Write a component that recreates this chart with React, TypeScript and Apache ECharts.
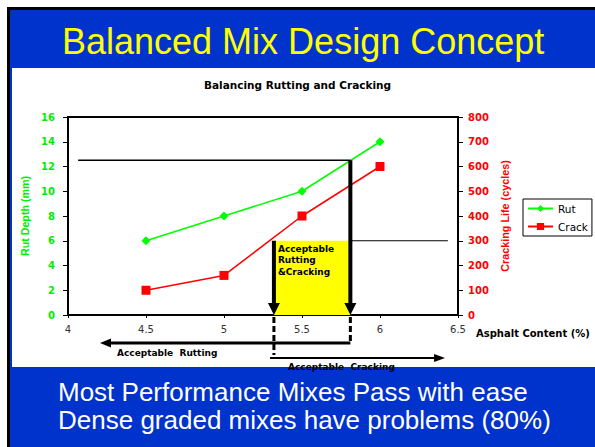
import { useEffect, useRef } from 'react';
import * as echarts from 'echarts';

// ---- data ----
const asphaltContent = [4.5, 5, 5.5, 6];
const rutDepth = [6, 8, 10, 14];
const crackingLife = [100, 160, 400, 600];
const seriesNames = ['Rut', 'Crack'];

// ---- annotation values (data units) ----
const rutLimit = 12.5;
const crackLimit = 300;
const acceptLow = 5.32;
const acceptHigh = 5.81;
const rutLineStart = 4.065;
const crackLineEnd = 6.435;
const rutArrowEnd = 4.205;
const crackArrowStart = 5.295;
const crackArrowEnd = 6.417;

const slideTitle = 'Balanced Mix Design Concept';
const chartTitle = 'Balancing Rutting and Cracking';
const bottomLines = ['Most Performance Mixes Pass with ease', 'Dense graded mixes have problems (80%)'];
const boxText = 'Acceptable\nRutting\n&Cracking';
const rutRangeText = 'Acceptable  Rutting';
const crackRangeText = 'Acceptable  Cracking';

const GREEN = '#00ff00';
const GREEN_TXT = '#00ee00';
const RED = '#ff0000';
const BLUE = '#0033cc';
const DV = 'DejaVu Sans';
const AR = 'Liberation Sans, Arial, sans-serif';

export default function App() {
  const ref = useRef<HTMLDivElement>(null);
  useEffect(() => {
    if (!ref.current) return;
    const chart = echarts.init(ref.current, null, { renderer: 'svg' });
    chart.setOption({
      animation: false,
      backgroundColor: '#ffffff',
      title: {
        text: chartTitle,
        left: 'center',
        top: 79,
        padding: 0,
        textStyle: { fontFamily: DV, fontWeight: 'bold', fontSize: 10.5, color: '#000' },
      },
      legend: {
        left: 523,
        top: 199,
        orient: 'vertical',
        itemWidth: 25,
        itemHeight: 9,
        itemGap: 7,
        padding: [4, 4, 4, 4],
        borderColor: '#000',
        borderWidth: 1,
        textStyle: { fontFamily: DV, fontSize: 10.5, color: '#000' },
        data: seriesNames,
      },
      grid: {
        left: 68,
        top: 117,
        width: 390,
        height: 198,
        show: true,
        borderColor: '#000',
        borderWidth: 2,
        backgroundColor: 'transparent',
      },
      xAxis: {
        type: 'value',
        min: 4,
        max: 6.5,
        interval: 0.5,
        splitLine: { show: false },
        axisLine: { lineStyle: { color: '#000', width: 2 } },
        axisTick: { length: 3, lineStyle: { color: '#000' } },
        axisLabel: { fontFamily: DV, fontSize: 10, color: '#333', margin: 9 },
        name: 'Asphalt Content (%)',
        nameLocation: 'end',
        nameGap: 18,
        nameTextStyle: {
          fontFamily: DV,
          fontWeight: 'bold',
          fontSize: 10,
          color: '#000',
          verticalAlign: 'top',
          padding: [13, 0, 0, 0],
        },
      },
      yAxis: [
        {
          type: 'value',
          position: 'left',
          min: 0,
          max: 16,
          interval: 2,
          splitLine: { show: false },
          axisLine: { show: true, lineStyle: { color: '#000', width: 2 } },
          axisTick: { show: true, length: 5, lineStyle: { color: '#000' } },
          axisLabel: { fontFamily: DV, fontWeight: 'bold', fontSize: 10, color: GREEN_TXT, margin: 13 },
          name: 'Rut Depth (mm)',
          nameLocation: 'middle',
          nameGap: 36,
          nameTextStyle: { fontFamily: AR, fontWeight: 'bold', fontSize: 10.7, color: GREEN_TXT },
        },
        {
          type: 'value',
          position: 'right',
          min: 0,
          max: 800,
          interval: 100,
          splitLine: { show: false },
          axisLine: { show: true, lineStyle: { color: '#000', width: 2 } },
          axisTick: { show: true, length: 5, lineStyle: { color: '#000' } },
          axisLabel: { fontFamily: DV, fontWeight: 'bold', fontSize: 10, color: RED, margin: 10 },
          name: 'Cracking Life (cycles)',
          nameLocation: 'middle',
          nameGap: 39,
          nameTextStyle: { fontFamily: AR, fontWeight: 'bold', fontSize: 10.8, color: RED },
        },
      ],
      series: [
        {
          name: seriesNames[0],
          type: 'line',
          yAxisIndex: 0,
          data: asphaltContent.map((x, i) => [x, rutDepth[i]]),
          symbol: 'diamond',
          symbolSize: 9,
          itemStyle: { color: GREEN },
          lineStyle: { color: GREEN, width: 1.5 },
          z: 5,
        },
        {
          name: seriesNames[1],
          type: 'line',
          yAxisIndex: 1,
          data: asphaltContent.map((x, i) => [x, crackingLife[i]]),
          symbol: 'rect',
          symbolSize: 9,
          itemStyle: { color: RED },
          lineStyle: { color: RED, width: 1.5 },
          z: 5,
        },
      ],
    });

    const P = (x: number, y: number) => chart.convertToPixel({ xAxisIndex: 0, yAxisIndex: 0 }, [x, y]) as number[];
    const C = (x: number, y: number) => chart.convertToPixel({ xAxisIndex: 0, yAxisIndex: 1 }, [x, y]) as number[];

    const yAxisPx = P(4, 0)[1];
    const xLow = C(acceptLow, 0)[0];
    const xHigh = P(acceptHigh, 0)[0];
    const yCrack = C(acceptLow, crackLimit)[1];
    const yRut = P(acceptHigh, rutLimit)[1];
    const xRutStart = P(rutLineStart, 0)[0];
    const xCrackEnd = C(crackLineEnd, 0)[0];
    const xRutArrow = P(rutArrowEnd, 0)[0];
    const xCrackArrowStart = P(crackArrowStart, 0)[0];
    const xCrackArrow = P(crackArrowEnd, 0)[0];

    const yRutArrow = yAxisPx + 28;
    const yCrackArrow = yAxisPx + 43;

    const blk = { stroke: '#000' };
    const graphic: any[] = [
      // slide background
      { type: 'rect', z: -10, shape: { x: 7, y: 7, width: 588, height: 440 }, style: { fill: '#000' }, silent: true },
      { type: 'rect', z: -10, shape: { x: 10, y: 10, width: 585, height: 437 }, style: { fill: BLUE }, silent: true },
      { type: 'rect', z: -10, shape: { x: 12, y: 68, width: 583, height: 299 }, style: { fill: '#fff' }, silent: true },
      {
        type: 'text', z: 10, x: 62, y: 41,
        style: { text: slideTitle, fill: '#ffff00', font: `36px ${AR}`, verticalAlign: 'middle' },
      },
      ...bottomLines.map((t, i) => ({
        type: 'text', z: 10, x: 58, y: 392 + i * 27.5,
        style: { text: t, fill: '#ffffff', font: `26px ${AR}`, verticalAlign: 'middle' },
      })),
      // yellow box
      { type: 'rect', z: 1, shape: { x: xLow, y: yCrack, width: xHigh - xLow, height: yAxisPx - yCrack }, style: { fill: '#ffff00' } },
      {
        type: 'text', z: 10, x: xLow + 4, y: yCrack + 2,
        style: { text: boxText, fill: '#000', font: `bold 9px ${DV}`, lineHeight: 11.7, verticalAlign: 'top' },
      },
      // limit lines
      { type: 'line', z: 10, shape: { x1: xRutStart, y1: yRut, x2: xHigh, y2: yRut }, style: { ...blk, lineWidth: 1.5 } },
      { type: 'line', z: 10, shape: { x1: xHigh, y1: yCrack, x2: xCrackEnd, y2: yCrack }, style: { ...blk, lineWidth: 1.2 } },
      // thick bars with arrowheads
      { type: 'line', z: 10, shape: { x1: xLow, y1: yCrack, x2: xLow, y2: yAxisPx - 10 }, style: { ...blk, lineWidth: 4 } },
      { type: 'polygon', z: 10, shape: { points: [[xLow - 6, yAxisPx - 12], [xLow + 6, yAxisPx - 12], [xLow, yAxisPx]] }, style: { fill: '#000' } },
      { type: 'line', z: 10, shape: { x1: xHigh, y1: yRut, x2: xHigh, y2: yAxisPx - 10 }, style: { ...blk, lineWidth: 4 } },
      { type: 'polygon', z: 10, shape: { points: [[xHigh - 6, yAxisPx - 12], [xHigh + 6, yAxisPx - 12], [xHigh, yAxisPx]] }, style: { fill: '#000' } },
      // dashed drops
      { type: 'line', z: 10, shape: { x1: xLow, y1: yAxisPx + 2, x2: xLow, y2: yAxisPx + 40 }, style: { ...blk, lineWidth: 3, lineDash: [6, 3] } },
      { type: 'line', z: 10, shape: { x1: xHigh, y1: yAxisPx + 2, x2: xHigh, y2: yRutArrow }, style: { ...blk, lineWidth: 3, lineDash: [6, 3] } },
      // acceptable rutting arrow
      { type: 'line', z: 10, shape: { x1: xHigh, y1: yRutArrow, x2: xRutArrow + 8, y2: yRutArrow }, style: { ...blk, lineWidth: 3 } },
      { type: 'polygon', z: 10, shape: { points: [[xRutArrow, yRutArrow], [xRutArrow + 11, yRutArrow - 4.5], [xRutArrow + 11, yRutArrow + 4.5]] }, style: { fill: '#000' } },
      {
        type: 'text', z: 10, x: 117, y: yAxisPx + 38,
        style: { text: rutRangeText, fill: '#000', font: `bold 9px ${DV}`, verticalAlign: 'middle' },
      },
      // acceptable cracking arrow
      { type: 'line', z: 10, shape: { x1: xCrackArrowStart, y1: yCrackArrow, x2: xCrackArrow - 8, y2: yCrackArrow }, style: { ...blk, lineWidth: 2 } },
      { type: 'polygon', z: 10, shape: { points: [[xCrackArrow, yCrackArrow], [xCrackArrow - 11, yCrackArrow - 4], [xCrackArrow - 11, yCrackArrow + 4]] }, style: { fill: '#000' } },
      {
        type: 'text', z: 10, x: 288, y: yAxisPx + 52,
        style: { text: crackRangeText, fill: '#000', font: `bold 9px ${DV}`, verticalAlign: 'middle' },
      },
    ];
    chart.setOption({ graphic });
    return () => chart.dispose();
  }, []);
  return <div ref={ref} style={{ position: 'fixed', left: 0, top: 0, width: 595, height: 447 }} />;
}
